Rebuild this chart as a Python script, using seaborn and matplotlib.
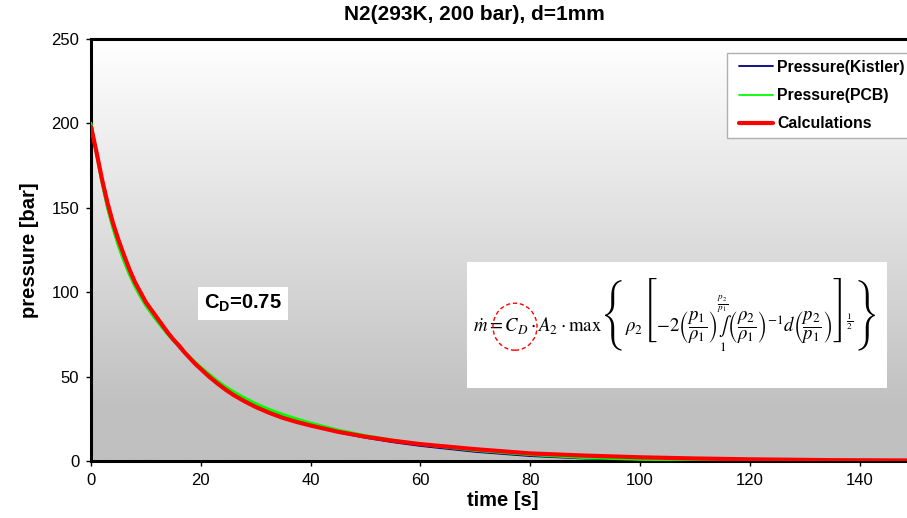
import numpy as np
import pandas as pd
import matplotlib
matplotlib.use("Agg")
import matplotlib.pyplot as plt
from matplotlib.patches import Rectangle, Ellipse
from matplotlib.lines import Line2D
import seaborn as sns

# ---- data ----
t_calc = [0, 0.5, 1, 1.5, 2, 2.5, 3, 3.5, 4, 5, 6, 7, 8, 9, 10, 11, 12, 13, 14, 15,
          16, 17, 18, 19, 20, 21.5, 23, 24.5, 26, 28, 30, 32.5, 35, 37.5, 40, 45,
          50, 55, 60, 70, 80, 90, 100, 110, 120, 135, 150]
p_calc = [198, 190.5, 183, 175, 167, 160, 153, 147, 141, 131, 122, 113.5, 106, 100,
          94, 89.5, 85, 80.5, 76, 72, 68.5, 64.5, 61, 57.5, 54.5, 50, 46, 42.3, 39,
          35.3, 32, 28.5, 25.5, 23.1, 21, 17.3, 14.4, 12, 10, 7, 4.5, 3.2, 2.2, 1.5,
          1.0, 0.5, 0.3]

t_pcb = [0, 0.5, 1, 1.5, 2, 2.5, 3, 3.5, 4, 5, 6, 7, 8, 9, 10, 11, 12, 13, 14, 15,
         16, 17, 18, 19, 20, 21.5, 23, 24.5, 26, 28, 30, 32.5, 35, 37.5, 40, 45,
         50, 55, 60, 70, 80, 90, 100, 110, 120, 135, 150]
p_pcb = [200, 191, 182, 173.5, 165, 157.5, 150, 144, 138, 127.5, 118.5, 110.5, 103.5,
         97.5, 92, 87.5, 83, 79, 75, 71.5, 68, 64.5, 61.5, 58.5, 55.5, 51.5, 47.5, 44,
         41, 37.3, 34, 30.5, 27.5, 24.9, 22.5, 18.3, 15, 12.3, 9.9, 6.3, 3.8, 2.0,
         1.0, 0.6, 0.4, 0.3, 0.3]

t_kis = [0, 0.5, 1, 1.5, 2, 2.5, 3, 3.5, 4, 5, 6, 7, 8, 9, 10, 11, 12, 13, 14, 15,
         16, 17, 18, 19, 20, 21.5, 23, 24.5, 26, 28, 30, 32.5, 35, 37.5, 40, 45,
         50, 55, 60, 70, 80, 90, 100, 110, 120, 135, 150]
p_kis = [201, 191.5, 182, 173.5, 165, 157.5, 150, 144, 138, 127.5, 118.5, 110.5, 103.5,
         97.5, 92, 87.5, 83, 79, 75, 71.3, 67.5, 64, 60.5, 57.5, 54.5, 50, 46, 42.6,
         39.5, 35.8, 32.5, 29, 26, 23.4, 21, 17, 13.8, 11.2, 9, 5.5, 3.0, 1.5, 0.6,
         0.2, 0.1, 0.0, 0.0]

series_names = ["Pressure(Kistler)", "Pressure(PCB)", "Calculations"]
series_colors = ["#000080", "#00ff00", "#ff0000"]
x_ticks = [0, 20, 40, 60, 80, 100, 120, 140]
y_ticks = [0, 50, 100, 150, 200, 250]

title = "N2(293K, 200 bar), d=1mm"
xlabel = "time [s]"
ylabel = "pressure [bar]"

# ---- style ----
sns.set_style("white")
plt.rcParams["font.family"] = ["Liberation Sans", "DejaVu Sans"]
plt.rcParams["mathtext.rm"] = "Liberation Sans"
plt.rcParams["mathtext.it"] = "Liberation Sans:italic"
plt.rcParams["mathtext.bf"] = "Liberation Sans:bold"
for k in ["text.color", "axes.labelcolor", "xtick.color", "ytick.color"]:
    plt.rcParams[k] = "black"

W, H = 907, 518
fig = plt.figure(figsize=(W / 100, H / 100), dpi=100, facecolor="white")
L, R, T, B = 91, 914.5, 39, 461
ax = fig.add_axes([L / W, 1 - B / H, (R - L) / W, (B - T) / H])

# gradient background
grad = np.concatenate([np.linspace(255, 192, 88), np.full(12, 192)]) / 255.0
img = np.repeat(grad[:, None], 3, axis=1)[:, None, :]
ax.imshow(img, extent=[0, 1, 0, 1], transform=ax.transAxes, aspect="auto",
          zorder=0, interpolation="bilinear")

df_k = pd.DataFrame({"t": t_kis, "p": p_kis})
df_p = pd.DataFrame({"t": t_pcb, "p": p_pcb})
df_c = pd.DataFrame({"t": t_calc, "p": p_calc})
sns.lineplot(data=df_k, x="t", y="p", ax=ax, color=series_colors[0], lw=1.5, zorder=2)
sns.lineplot(data=df_p, x="t", y="p", ax=ax, color=series_colors[1], lw=2.2, zorder=3)
sns.lineplot(data=df_c, x="t", y="p", ax=ax, color=series_colors[2], lw=3.0, zorder=4)

ax.set_xlim(0, 150)
ax.set_ylim(0, 250)
ax.set_xticks(x_ticks)
ax.set_yticks(y_ticks)
ax.tick_params(direction="out", length=3.5, width=1, color="black",
               labelsize=12, pad=5, labelcolor="black")
ax.tick_params(axis="both", which="both", bottom=True, left=True)
for s in ["left", "bottom", "top"]:
    ax.spines[s].set_color("black")
    ax.spines[s].set_linewidth(2.2)
ax.spines["right"].set_visible(False)
ax.set_xlabel(xlabel, fontsize=14.5, fontweight="bold", labelpad=2)
ax.set_ylabel(ylabel, fontsize=14.5, fontweight="bold", labelpad=9)
fig.text(474 / W, 1 - 14 / H, title, fontsize=15, fontweight="bold",
         ha="center", va="center")

# legend with separate frame
ax.add_patch(Rectangle((727 / W, 1 - 138 / H), 200 / W, 85 / H, transform=fig.transFigure,
                       facecolor="white", edgecolor="#b0b0b0", lw=1, zorder=6, clip_on=False))
handles = [Line2D([], [], color=series_colors[0], lw=1.3),
           Line2D([], [], color=series_colors[1], lw=1.3),
           Line2D([], [], color=series_colors[2], lw=3.0)]
leg = ax.legend(handles, series_names, loc="upper left",
                bbox_to_anchor=(739 / W, 1 - 60 / H), bbox_transform=fig.transFigure,
                frameon=False, borderaxespad=0, borderpad=0,
                prop={"weight": "bold", "size": 11.4}, handlelength=2.15,
                handletextpad=0.25, labelspacing=0.83)
leg.set_zorder(7)

# equation box
fig.add_artist(Rectangle((467 / W, 1 - 388 / H), 420 / W, 126 / H, transform=fig.transFigure,
                         facecolor="white", edgecolor="none", zorder=2))
eq = (r"$\dot{m} = C_D \cdot A_2 \cdot \max\left\{\rho_2\left[-2\left(\dfrac{p_1}{\rho_1}\right)"
      r"\underset{1}{\overset{\frac{p_2}{p_1}}{\int}}\left(\dfrac{\rho_2}{\rho_1}\right)^{-1} "
      r"d\left(\dfrac{p_2}{p_1}\right)\right]^{\frac{1}{2}}\right\}$")
fig.text(473 / W, 1 - 333 / H, eq, fontsize=13.5, ha="left", va="baseline",
         math_fontfamily="stix", zorder=3)
fig.add_artist(Ellipse((515 / W, 1 - 326.7 / H), 44 / W, 47 / H, transform=fig.transFigure,
                       facecolor="none", edgecolor="red", lw=1, ls=(0, (3, 2)), zorder=4))

# C_D label
fig.text(243 / W, 1 - 303.5 / H, r"C$_\mathbf{D}$=0.75", fontsize=14.5, fontweight="bold",
         ha="center", va="center", math_fontfamily="custom", zorder=3,
         bbox=dict(boxstyle="square,pad=0.3", facecolor="white", edgecolor="none"))

fig.savefig("out.png", dpi=100)
